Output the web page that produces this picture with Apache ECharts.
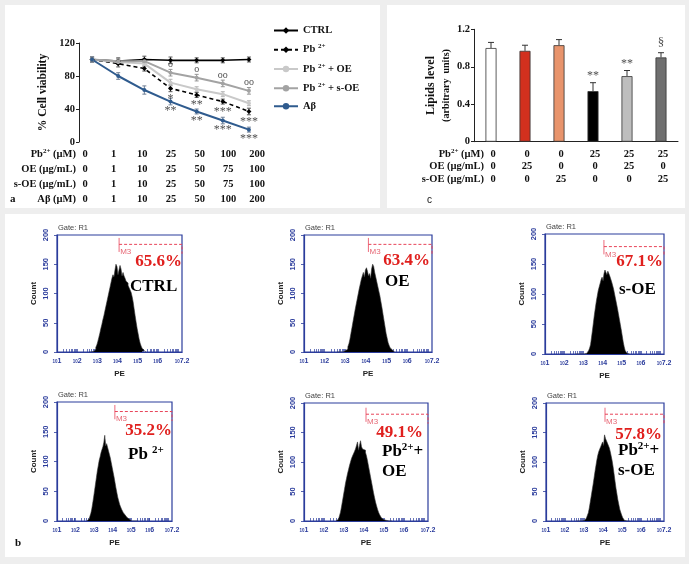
<!DOCTYPE html>
<html><head><meta charset="utf-8">
<script src="https://cdn.jsdelivr.net/npm/echarts@6/dist/echarts.min.js"></script>
<style>html,body{margin:0;padding:0;background:#eeeeee}#c{width:689px;height:564px}</style>
</head><body><div id="c"></div><script>
// ---------- Panel a: cell viability ----------
const doseCats = ['0','1','10','25','50','100','200'];
const rowPb   = ['0','1','10','25','50','100','200'];
const rowOE   = ['0','1','10','25','50','75','100'];
const rowSOE  = ['0','1','10','25','50','75','100'];
const rowAb   = ['0','1','10','25','50','100','200'];
const lineNames = ['CTRL','Pb2+','Pb2+ + OE','Pb2+ + s-OE','Aβ'];
const ctrl  = [100,98,100,99,99,99,100];
const pb    = [100,95,89,65,57,49,37];
const pbOE  = [100,97,95,72,64,58,47];
const pbSOE = [100,98,98,84,78,71,62];
const abeta = [100,80,63,49,37,26,15];
const errCtrl  = [3,4,4,4,3,3,3];
const errPb    = [3,4,3,4,3,3,4];
const errPbOE  = [3,3,3,4,3,3,3];
const errPbSOE = [3,3,3,4,4,4,4];
const errAbeta = [3,4,5,4,3,4,3];
const sigSOE = ['','','','o','o','oo','oo'];
const sigPb  = ['','','','*','**','***','***'];
const sigAb  = ['','','','**','**','***','***'];

// ---------- Panel c: lipids ----------
const lipidCats = ['1','2','3','4','5','6'];
const lipidVals = [1.00,0.97,1.03,0.54,0.70,0.90];
const lipidErr  = [0.06,0.06,0.06,0.09,0.06,0.05];
const lipidSig  = ['','','','**','**','§'];
const cPb  = ['0','0','0','25','25','25'];
const cOE  = ['0','25','0','0','25','0'];
const cSOE = ['0','0','25','0','0','25'];

// ---------- Panel b: flow cytometry (x = log10 PE bin, y = count) ----------
const histBins = [2.6,2.65,2.7,2.75,2.8,2.85,2.9,2.95,3.0,3.05,3.1,3.15,3.2,3.25,3.3,3.35,3.4,3.45,3.5,3.55,3.6,3.65,3.7,3.75,3.8,3.85,3.9,3.95,4.0,4.05,4.1,4.15,4.2,4.25,4.3,4.35,4.4,4.45,4.5,4.55,4.6,4.65,4.7,4.75,4.8,4.85,4.9,4.95,5.0,5.05,5.1,5.15,5.2,5.25,5.3,5.35,5.4];
const histCTRL  = [0,0,0,0,1,2,4,8,12,18, 25,32,40,47,55,62,70,78,86,94, 102,110,118,126,132,128,140,150,146,132, 140,148,142,130,136,130,126,121,118,114, 110,106,102,95,86,74,62,51,40,31, 22,15,10,6,3,1,0];
const histOE    = [0,0,0,0,0,0,0,1,2,3, 5,9,14,22,32,42,52,62,72,81, 90,99,108,116,124,130,136,128,140,144, 138,130,134,126,142,150,146,136,128,120, 112,104,96,86,76,65,54,43,32,24, 16,11,7,4,2,1,0];
const histSOE   = [0,0,0,0,0,0,0,0,0,0, 0,1,2,4,6,10,16,28,40,53, 66,77,88,97,106,112,118,124,128,122, 134,140,142,132,138,134,130,125,120,114, 108,100,92,84,76,67,58,49,40,30, 20,12,6,3,1,0,0];
const histPb    = [0,1,3,5,8,13,20,30,40,51, 62,73,84,93,102,108,115,120,125,132, 144,126,130,124,118,112,106,98,90,82, 74,65,56,48,40,34,28,24,20,17, 14,12,10,8,6,4,3,2,1,0, 0,0,0,0,0,0,0];
const histPbOE  = [0,1,3,5,9,15,24,34,44,54, 64,72,80,87,94,100,106,110,114,118, 122,128,134,120,128,136,126,122,124,120, 116,110,102,93,84,75,66,57,48,40, 32,26,20,15,11,8,5,3,2,1, 1,0,0,0,0,0,0];
const histPbSOE = [0,0,0,0,0,0,0,0,0,1, 3,5,8,14,22,32,42,52,62,73, 84,94,104,112,118,122,126,130,134,128, 146,140,138,132,130,124,118,110,102,92, 80,68,56,46,36,28,20,15,10,6, 3,1,0,0,0,0,0];
const histSets  = [histCTRL,histOE,histSOE,histPb,histPbOE,histPbSOE];
const percents  = ['65.6%','63.4%','67.1%','35.2%','49.1%','57.8%'];
const gateStart = [4.08,4.12,4.07,4.12,4.10,4.10];
const gateLevel = [184,184,179,184,181,181];
const histXTicks = [1,2,3,4,5,6,7.2];

// ---------- styles / layout ----------
const SERIF = '"Liberation Serif","Times New Roman",serif';
const SANS = '"Liberation Sans",Arial,sans-serif';
const BLUE = '#2b3c9c';
const lineColors = ['#000000','#000000','#c9c9c9','#a3a3a3','#2f5b8e'];
const errColors  = ['#555555','#555555','#b5b5b5','#959595','#6f7f95'];
const lineTypes  = ['solid',[4,3],'solid','solid','solid'];
const lineSym    = ['diamond','diamond','circle','circle','circle'];
const barColors  = ['#ffffff','#d2301e','#e8946c','#000000','#bebebe','#6f6f6f'];
const histRects  = [[57,235,125,117],[304,235,128,117],[545,234,119,120],[57,402,115,119],[304,403,124,118],[546,403,118,118]];
const histNames  = ['{b|CTRL}','{b|OE}','{b|s-OE}','{b|Pb }{s|2+}','{b|Pb}{s|2+}{b|+}\n{b|OE}','{b|Pb}{s|2+}{b|+}\n{b|s-OE}'];
const namePos    = [[130,277],[385,272],[619,280],[128,445],[382,442],[618,441]];
const pctPos     = [[182,262],[430,261],[663,262],[172,431],[423,433],[662,435]];

const supRich = (fs) => ({
  b:{fontFamily:SERIF,fontWeight:'bold',fontSize:fs,lineHeight:fs+3,color:'#111'},
  s:{fontFamily:SERIF,fontWeight:'bold',fontSize:Math.round(fs*0.62),lineHeight:Math.round(fs*0.62),verticalAlign:'top',color:'#111'}
});
const tblRich = supRich(10.5);
const legendMap = {'CTRL':'{b|CTRL}','Pb2+':'{b|Pb }{s|2+}','Pb2+ + OE':'{b|Pb }{s|2+}{b| + OE}','Pb2+ + s-OE':'{b|Pb }{s|2+}{b| + s-OE}','Aβ':'{b|Aβ}'};

function tableAxis(gridIndex, data, offset, name) {
  return {type:'category', gridIndex, data, boundaryGap:false, position:'bottom', offset,
    axisLine:{show:false}, axisTick:{show:false}, splitLine:{show:false},
    axisLabel:{interval:0, margin:0, verticalAlign:'middle', color:'#111', fontFamily:SERIF, fontWeight:'bold', fontSize:10.5},
    name, nameLocation:'start', nameGap:9,
    nameTextStyle:{rich:tblRich, color:'#111', fontFamily:SERIF, fontWeight:'bold', fontSize:10.5}};
}
function sigData(vals, sigs){
  return sigs.map((s,i)=> s ? {value:[i, vals[i]], label:{formatter:s}} : null).filter(Boolean);
}
function errSeries(x, y, vals, errs, color, cap, upOnly){
  return {type:'custom', xAxisIndex:x, yAxisIndex:y, z:1, silent:true,
    data: vals.map((v,i)=>[i, upOnly ? v : v-errs[i], v+errs[i]]),
    encode:{x:0, y:[1,2]},
    renderItem:(p, api)=>{
      const lo = api.coord([api.value(0), api.value(1)]);
      const hi = api.coord([api.value(0), api.value(2)]);
      const st = {stroke:color, lineWidth:1};
      const ch = [{type:'line', shape:{x1:lo[0],y1:lo[1],x2:hi[0],y2:hi[1]}, style:st},
                  {type:'line', shape:{x1:hi[0]-cap,y1:hi[1],x2:hi[0]+cap,y2:hi[1]}, style:st}];
      if(!upOnly) ch.push({type:'line', shape:{x1:lo[0]-cap,y1:lo[1],x2:lo[0]+cap,y2:lo[1]}, style:st});
      return {type:'group', children:ch};
    }};
}

const grid = [
  {left:79, top:43, width:183, height:99},
  {left:85, top:100, width:172, height:54},
  {left:474, top:29.3, width:204, height:112.4},
  {left:493, top:100, width:170, height:54}
];
const xAxis = [
  {type:'category', gridIndex:0, data:doseCats, boundaryGap:true, axisLine:{show:false}, axisTick:{show:false}, axisLabel:{show:false}},
  tableAxis(1, rowPb, 0, '{b|Pb}{s|2+}{b| (µM)}'),
  tableAxis(1, rowOE, 15, '{b|OE (µg/mL)}'),
  tableAxis(1, rowSOE, 30, '{b|s-OE (µg/mL)}'),
  tableAxis(1, rowAb, 45, '{b|Aβ (µM)}'),
  {type:'category', gridIndex:2, data:lipidCats, axisLine:{show:true, lineStyle:{color:'#222', width:1}}, axisTick:{show:false}, axisLabel:{show:false}},
  tableAxis(3, cPb, 0, '{b|Pb}{s|2+}{b| (µM)}'),
  tableAxis(3, cOE, 12.5, '{b|OE (µg/mL)}'),
  tableAxis(3, cSOE, 25, '{b|s-OE (µg/mL)}')
];
const yAxis = [
  {type:'value', gridIndex:0, min:0, max:120, interval:40, splitLine:{show:false},
   axisLine:{show:true, lineStyle:{color:'#222', width:1}}, axisTick:{show:true, length:3, lineStyle:{color:'#222'}},
   axisLabel:{margin:4, color:'#111', fontFamily:SERIF, fontWeight:'bold', fontSize:10.5},
   name:'% Cell viability', nameLocation:'middle', nameGap:30,
   nameTextStyle:{color:'#111', fontFamily:SERIF, fontWeight:'bold', fontSize:11.5}},
  {type:'value', gridIndex:1, show:false},
  {type:'value', gridIndex:2, min:0, max:1.2, interval:0.4, splitLine:{show:false},
   axisLine:{show:true, lineStyle:{color:'#222', width:1}}, axisTick:{show:true, length:3, lineStyle:{color:'#222'}},
   axisLabel:{margin:4, color:'#111', fontFamily:SERIF, fontWeight:'bold', fontSize:10.5, formatter:v=> v===0 ? '0' : v.toFixed(1)},
   name:'{t|Lipids level}\n{u|(arbitrary  units)}', nameLocation:'middle', nameGap:21,
   nameTextStyle:{rich:{t:{fontFamily:SERIF, fontWeight:'bold', fontSize:12, color:'#111', lineHeight:17},
                        u:{fontFamily:SERIF, fontWeight:'bold', fontSize:10, color:'#111', lineHeight:14}}}},
  {type:'value', gridIndex:3, show:false}
];
const series = [];
const lineData = [ctrl,pb,pbOE,pbSOE,abeta];
const errData = [errCtrl,errPb,errPbOE,errPbSOE,errAbeta];
lineData.forEach((d,k)=>{
  series.push(errSeries(0,0,d,errData[k],errColors[k],2,false));
});
lineData.forEach((d,k)=>{
  series.push({type:'line', name:lineNames[k], xAxisIndex:0, yAxisIndex:0, data:d, z:3,
    symbol:lineSym[k], symbolSize:k<2?5:4, showSymbol:true,
    lineStyle:{color:lineColors[k], width:k<2?1.6:2, type:lineTypes[k]},
    itemStyle:{color:lineColors[k]}});
});
const annLabel = {show:true, fontFamily:SERIF, color:'#222'};
series.push({type:'scatter', xAxisIndex:0, yAxisIndex:0, symbolSize:0.1, itemStyle:{color:'transparent'}, z:4,
  data:sigData(pbSOE,sigSOE), label:{...annLabel, position:'top', distance:3, fontSize:10}});
series.push({type:'scatter', xAxisIndex:0, yAxisIndex:0, symbolSize:0.1, itemStyle:{color:'transparent'}, z:4,
  data:sigData(pb,sigPb), label:{...annLabel, position:'bottom', distance:4, fontSize:12}});
series.push({type:'scatter', xAxisIndex:0, yAxisIndex:0, symbolSize:0.1, itemStyle:{color:'transparent'}, z:4,
  data:sigData(abeta,sigAb), label:{...annLabel, position:'bottom', distance:3, fontSize:12}});
// panel c
series.push({type:'bar', xAxisIndex:5, yAxisIndex:2, barWidth:11, z:2,
  data:lipidVals.map((v,i)=>({value:v, itemStyle:{color:barColors[i], borderColor:'#333', borderWidth:0.8}}))});
series.push(errSeries(5,2,lipidVals,lipidErr,'#333',3,true));
series.push({type:'scatter', xAxisIndex:5, yAxisIndex:2, symbolSize:0.1, itemStyle:{color:'transparent'}, z:4,
  data:lipidSig.map((s,i)=> s ? {value:[i, lipidVals[i]+lipidErr[i]], label:{formatter:s, distance: s==='§'?4:1, fontSize: s==='§'?13:12}} : null).filter(Boolean),
  label:{...annLabel, position:'top'}});

// panel b
const minorTicks = [];
for (let n=1;n<=7;n++) for (let k=1;k<=9;k++){ const t = n+Math.log10(k); if (t<=7.2001) minorTicks.push(+t.toFixed(4)); }
histRects.forEach((r,k)=>{
  const gi = grid.length;
  grid.push({left:r[0], top:r[1], width:r[2], height:r[3], show:true, borderColor:BLUE, borderWidth:1.2, backgroundColor:'transparent'});
  const xi = xAxis.length, yi = yAxis.length;
  xAxis.push({type:'value', gridIndex:gi, min:1, max:7.2, splitLine:{show:false},
    axisLine:{show:true, lineStyle:{color:BLUE, width:1.2}},
    axisTick:{show:true, customValues:minorTicks, inside:true, length:3, lineStyle:{color:BLUE, width:0.7}},
    axisLabel:{customValues:histXTicks, margin:6, color:BLUE, formatter:v=>'{t|10}{e|'+v+'}',
      rich:{t:{fontSize:4.5, color:BLUE, fontFamily:SANS, fontWeight:'bold'}, e:{fontSize:7, color:BLUE, fontFamily:SANS, fontWeight:'bold'}}},
    name:'PE', nameLocation:'middle', nameGap:18,
    nameTextStyle:{fontSize:8, fontWeight:'bold', fontFamily:SANS, color:'#222'}});
  yAxis.push({type:'value', gridIndex:gi, min:0, max:200, interval:50, splitLine:{show:false},
    axisLine:{show:true, lineStyle:{color:BLUE, width:1.2}},
    axisTick:{show:true, length:3, lineStyle:{color:BLUE, width:0.8}},
    axisLabel:{rotate:90, margin:7, fontSize:7.5, color:BLUE, fontFamily:SANS, fontWeight:'bold'},
    name:'Count', nameLocation:'middle', nameGap:19,
    nameTextStyle:{fontSize:8, fontWeight:'bold', fontFamily:SANS, color:'#222'}});
  series.push({type:'line', xAxisIndex:xi, yAxisIndex:yi, step:'middle', symbol:'none', z:2,
    data:histBins.map((b,i)=>[b, histSets[k][i]]),
    lineStyle:{color:'#333', width:0.6}, areaStyle:{color:'#000', opacity:1}});
  series.push({type:'line', xAxisIndex:xi, yAxisIndex:yi, symbol:'none', clip:false, z:3,
    data:[[gateStart[k], gateLevel[k]],[7.2, gateLevel[k]],[7.2, gateLevel[k]-16]],
    lineStyle:{color:'#e8455a', width:1, type:[3,2]}});
  series.push({type:'line', xAxisIndex:xi, yAxisIndex:yi, symbol:'none', clip:false, z:3,
    data:[[gateStart[k], gateLevel[k]+11],[gateStart[k], gateLevel[k]-13]],
    lineStyle:{color:'#e8455a', width:0.8}});
  series.push({type:'scatter', xAxisIndex:xi, yAxisIndex:yi, symbolSize:0.1, itemStyle:{color:'transparent'}, z:4,
    data:[[gateStart[k], gateLevel[k]-13]],
    label:{show:true, formatter:'M3', position:'right', distance:1, fontSize:8, fontFamily:SANS, color:'#e04050'}});
});

// graphics: panel backgrounds and texts
const gtext = (x,y,text,extra) => ({type:'text', x, y, z:10, style:Object.assign({text, fill:'#111',
  fontFamily:SERIF, fontWeight:'bold', fontSize:11, align:'left', verticalAlign:'middle', textAlign:'left', textVerticalAlign:'middle'}, extra||{})});
const elements = [
  {type:'rect', shape:{x:5,y:5,width:375,height:203}, style:{fill:'#ffffff'}, z:-10, silent:true},
  {type:'rect', shape:{x:387,y:5,width:298,height:203}, style:{fill:'#ffffff'}, z:-10, silent:true},
  {type:'rect', shape:{x:5,y:214,width:680,height:343}, style:{fill:'#ffffff'}, z:-10, silent:true},
  gtext(10,199,'a'), gtext(427,200,'c',{fontWeight:'normal',fontFamily:SANS,fontSize:10}), gtext(15,543,'b')
];
histRects.forEach((r,k)=>{
  elements.push(gtext(r[0]+1, r[1]-7, 'Gate: R1', {fontFamily:SANS, fontWeight:'normal', fontSize:7.5, fill:'#444'}));
  elements.push(gtext(pctPos[k][0], pctPos[k][1], percents[k], {fontSize:17, fill:'#e0201e', align:'right', textAlign:'right'}));
  elements.push({type:'text', x:namePos[k][0], y:namePos[k][1], z:10,
    style:{text:histNames[k], rich:supRich(17), align:'left', verticalAlign:'top', textAlign:'left', textVerticalAlign:'top'}});
});

const chart = echarts.init(document.getElementById('c'));
chart.setOption({
  animation:false,
  backgroundColor:'#eeeeee',
  grid, xAxis, yAxis, series,
  legend:{data:lineNames, orient:'vertical', left:268, top:20, itemWidth:24, itemHeight:8, itemGap:7,
    formatter:n=>legendMap[n], textStyle:{rich:supRich(10.5), padding:[0,0,0,0]}},
  graphic:{elements}
});
</script></body></html>
